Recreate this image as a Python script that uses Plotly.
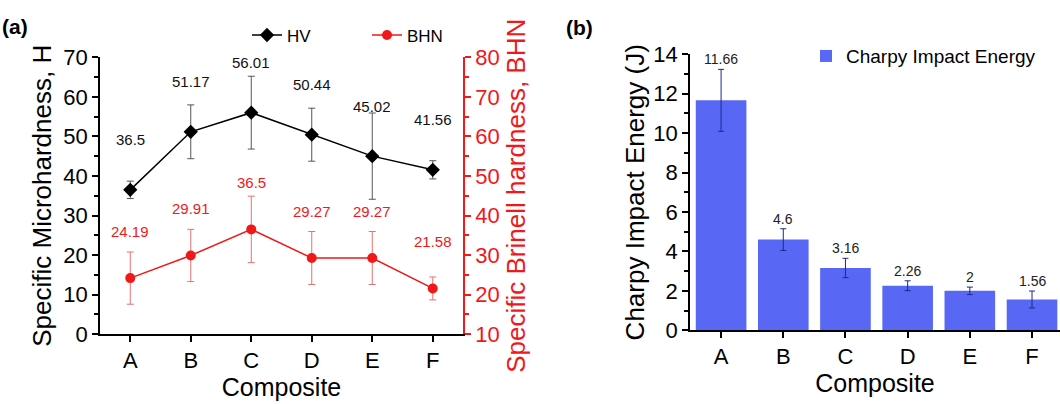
import plotly.graph_objects as go

categories = ["A", "B", "C", "D", "E", "F"]

hv_values = [36.5, 51.17, 56.01, 50.44, 45.02, 41.56]
hv_errors = [2.2, 6.8, 9.2, 6.7, 10.9, 2.3]

bhn_values = [24.19, 29.91, 36.5, 29.27, 29.27, 21.58]
bhn_errors = [6.6, 6.6, 8.4, 6.7, 6.7, 2.9]

charpy_values = [11.66, 4.6, 3.16, 2.26, 2.0, 1.56]
charpy_errors = [1.57, 0.55, 0.49, 0.25, 0.19, 0.43]
charpy_labels = ["11.66", "4.6", "3.16", "2.26", "2", "1.56"]

FONT = "Liberation Sans, Arial, sans-serif"
RED = "#f01818"
BLUE = "#5868f5"

W, H = 1060, 404

def px_x(p):
    return p / W

def px_y(p):
    return (H - p) / H

fig = go.Figure()

fig.add_trace(go.Scatter(
    x=categories, y=hv_values, name="HV", mode="lines+markers",
    line=dict(color="black", width=1.5),
    marker=dict(symbol="diamond", size=11, color="black"),
    error_y=dict(type="data", array=hv_errors, color="#555555", thickness=1, width=3.5),
    xaxis="x", yaxis="y", legend="legend",
))
fig.add_trace(go.Scatter(
    x=categories, y=bhn_values, name="BHN", mode="lines+markers",
    line=dict(color=RED, width=1.5),
    marker=dict(symbol="circle", size=10, color=RED),
    error_y=dict(type="data", array=bhn_errors, color="#e87070", thickness=1, width=3.5),
    xaxis="x", yaxis="y2", legend="legend",
))
fig.add_trace(go.Bar(
    x=categories, y=charpy_values, name="Charpy Impact Energy",
    marker=dict(color=BLUE, line=dict(width=0)),
    error_y=dict(type="data", array=charpy_errors, color="#1a2a8a", thickness=1, width=3),
    xaxis="x2", yaxis="y3", legend="legend2",
))

annotations = []
for c, v in zip(categories, hv_values):
    annotations.append(dict(x=c, y=v, xref="x", yref="y", text=f"{v:g}", showarrow=False,
                            yshift=50, font=dict(family=FONT, size=15, color="#111111")))
for c, v in zip(categories, bhn_values):
    annotations.append(dict(x=c, y=v, xref="x", yref="y2", text=f"{v:g}", showarrow=False,
                            yshift=47, font=dict(family=FONT, size=15, color=RED)))
for c, v, e, t in zip(categories, charpy_values, charpy_errors, charpy_labels):
    annotations.append(dict(x=c, y=v + e, xref="x2", yref="y3", text=t, showarrow=False,
                            yshift=10, font=dict(family=FONT, size=14, color="#222222")))
annotations.append(dict(x=0.0, y=1.0, xref="paper", yref="paper", xanchor="left", yanchor="top",
                        text="<b>(a)</b>", showarrow=False, yshift=-1,
                        font=dict(family=FONT, size=21, color="black")))
annotations.append(dict(x=px_x(564), y=1.0, xref="paper", yref="paper", xanchor="left", yanchor="top",
                        text="<b>(b)</b>", showarrow=False, yshift=-2,
                        font=dict(family=FONT, size=21, color="black")))

axis_common = dict(showline=True, linewidth=1.5, ticks="outside", ticklen=6, tickwidth=1.5,
                   showgrid=False, zeroline=False)

fig.update_layout(
    width=W, height=H, margin=dict(l=0, r=0, t=0, b=0),
    paper_bgcolor="white", plot_bgcolor="white",
    font=dict(family=FONT, size=20, color="black"),
    showlegend=True,
    xaxis=dict(domain=[px_x(100), px_x(463)], anchor="y", range=[-0.5, 5.5],
               linecolor="black", tickcolor="black",
               tickfont=dict(size=22), title=dict(text="Composite", font=dict(size=25), standoff=4),
               **axis_common),
    yaxis=dict(domain=[px_y(343.5), px_y(48.3)], anchor="x", range=[0, 70], dtick=10,
               linecolor="black", tickcolor="black",
               minor=dict(dtick=5, ticklen=4, tickcolor="black", ticks="outside"),
               tickfont=dict(size=22),
               title=dict(text="Specific Microhardness, H", font=dict(size=26), standoff=4),
               **axis_common),
    yaxis2=dict(overlaying="y", side="right", anchor="x", range=[10, 80], dtick=10,
                linecolor=RED, tickcolor=RED,
                minor=dict(dtick=5, ticklen=4, tickcolor=RED, ticks="outside"),
                tickfont=dict(size=22, color=RED),
                title=dict(text="Specific Brinell hardness, BHN", font=dict(size=26, color=RED), standoff=8),
                **axis_common),
    xaxis2=dict(domain=[px_x(690), 1.0], anchor="y3", range=[-0.5, 5.45],
                linecolor="black", tickcolor="black",
                tickfont=dict(size=22), title=dict(text="Composite", font=dict(size=25), standoff=4),
                **axis_common),
    yaxis3=dict(domain=[px_y(339.3), px_y(45)], anchor="x2", range=[0, 14], dtick=2,
                linecolor="black", tickcolor="black",
                minor=dict(dtick=1, ticklen=4, tickcolor="black", ticks="outside"),
                tickfont=dict(size=22),
                title=dict(text="Charpy Impact Energy (J)", font=dict(size=26), standoff=1),
                **axis_common),
    bargap=0.186,
    legend=dict(orientation="h", x=px_x(247), y=px_y(25), xanchor="left", yanchor="middle",
                entrywidth=75, font=dict(size=17), bgcolor="rgba(0,0,0,0)", tracegroupgap=0),
    legend2=dict(orientation="h", x=px_x(806), y=px_y(47), xanchor="left", yanchor="middle",
                 font=dict(size=19), bgcolor="rgba(0,0,0,0)"),
    annotations=annotations,
)

fig.write_html("out.html")
